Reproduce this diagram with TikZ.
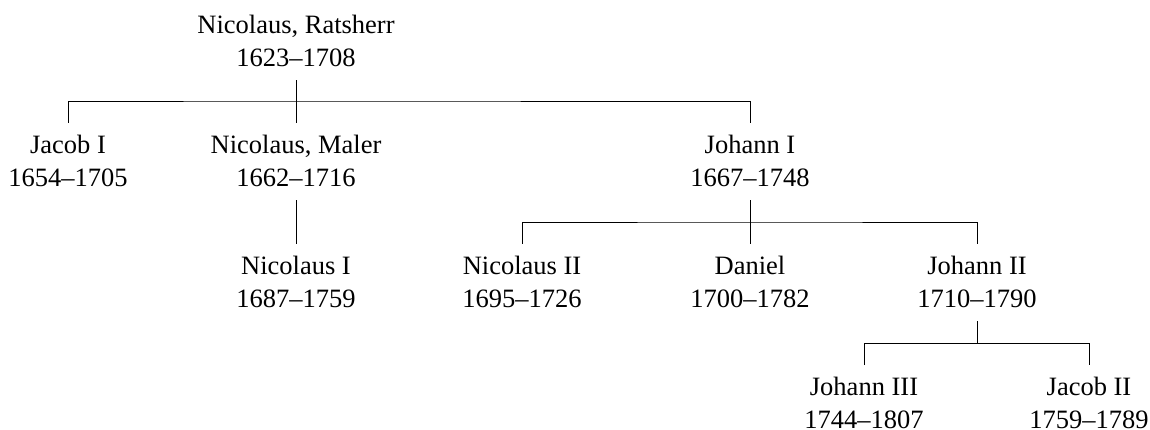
\documentclass[tikz,border=0pt]{standalone}
\usepackage{fontspec}
\setmainfont{Liberation Serif}
\begin{document}
\begin{tikzpicture}[x=1pt,y=1pt,
  person/.style={anchor=north,inner sep=0pt,align=center,font=\fontsize{26.5}{33}\selectfont},
  conn/.style={draw=black,line width=0.8pt}]
\useasboundingbox (0,0) rectangle (1150,-430);
\node[person] (r) at (296,-15) {Nicolaus, Ratsherr\\1623--1708};
\node[person] (jacob) at (68,-135) {Jacob I\\1654--1705};
\node[person] (maler) at (296,-135) {Nicolaus, Maler\\1662--1716};
\node[person] (johann) at (750,-135) {Johann I\\1667--1748};
\node[person] (nic1) at (296,-256) {Nicolaus I\\1687--1759};
\node[person] (nic2) at (522,-256) {Nicolaus II\\1695--1726};
\node[person] (daniel) at (750,-256) {Daniel\\1700--1782};
\node[person] (johann2) at (977,-256) {Johann II\\1710--1790};
\node[person] (johann3) at (864,-377) {Johann III\\1744--1807};
\node[person] (jacob2) at (1089,-377) {Jacob II\\1759--1789};
% level 1
\draw[conn] ([yshift=-13pt]r.south) -- ([yshift=12pt]maler.north);
\draw[conn] ([yshift=12pt]jacob.north) |- ([yshift=34pt]maler.north) -| ([yshift=12pt]johann.north);
% level 2
\draw[conn] ([yshift=-13pt]maler.south) -- ([yshift=12pt]nic1.north);
\draw[conn] ([yshift=-13pt]johann.south) -- ([yshift=12pt]daniel.north);
\draw[conn] ([yshift=12pt]nic2.north) |- ([yshift=34pt]daniel.north) -| ([yshift=12pt]johann2.north);
% level 3
\draw[conn] ([yshift=-13pt]johann2.south) -- ([yshift=34pt]johann2.south |- johann3.north);
\draw[conn] ([yshift=12pt]johann3.north) |- ([yshift=34pt]johann3.north) -| ([yshift=12pt]jacob2.north);
\end{tikzpicture}
\end{document}
